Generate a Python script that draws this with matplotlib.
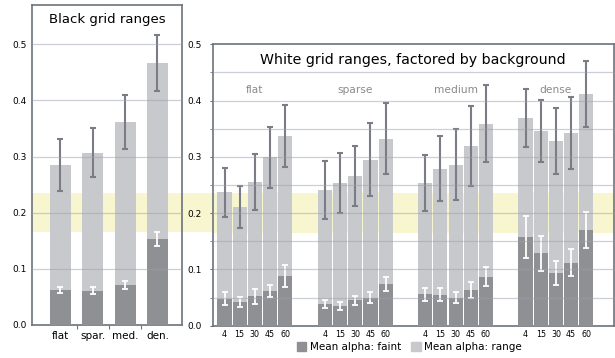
import numpy as np
import matplotlib
matplotlib.use("Agg")
import matplotlib.pyplot as plt
from matplotlib.patches import Patch

# black grid panel
black_labels = ["flat", "spar.", "med.", "den."]
black_range = [0.285, 0.307, 0.361, 0.467]
black_range_err = [0.047, 0.0435, 0.048, 0.050]
black_faint = [0.062, 0.061, 0.071, 0.153]
black_faint_err = [0.0055, 0.0065, 0.0065, 0.012]

# white grid panel, by background
backgrounds = ["flat", "sparse", "medium", "dense"]
grid_sizes = ["4", "15", "30", "45", "60"]
white_range = [
    [0.237, 0.211, 0.255, 0.299, 0.337],
    [0.241, 0.253, 0.266, 0.295, 0.332],
    [0.254, 0.279, 0.286, 0.320, 0.359],
    [0.369, 0.346, 0.328, 0.343, 0.412],
]
white_range_err = [
    [0.043, 0.037, 0.050, 0.054, 0.055],
    [0.051, 0.053, 0.053, 0.065, 0.063],
    [0.050, 0.058, 0.063, 0.071, 0.069],
    [0.052, 0.055, 0.059, 0.064, 0.059],
]
white_faint = [
    [0.048, 0.042, 0.052, 0.062, 0.088],
    [0.039, 0.035, 0.045, 0.050, 0.074],
    [0.056, 0.055, 0.050, 0.064, 0.087],
    [0.158, 0.129, 0.094, 0.112, 0.170],
]
white_faint_err = [
    [0.012, 0.009, 0.013, 0.011, 0.020],
    [0.007, 0.007, 0.0085, 0.0095, 0.0125],
    [0.0115, 0.012, 0.010, 0.014, 0.017],
    [0.037, 0.031, 0.021, 0.024, 0.032],
]
band = (0.165, 0.235)

light = "#c8c9cc"
dark = "#8f9094"
err_dark = "#7b7c86"
frame = "#6b737d"
grid_c = "#9aa0b0"
yellow = "#f8f6cf"

W, H = 615, 358
fig = plt.figure(figsize=(W / 100, H / 100), dpi=100)

ax1 = fig.add_axes([32 / W, 33 / H, 150 / W, 320 / H])
ax2 = fig.add_axes([212.5 / W, 32.3 / H, 401.5 / W, 281.4 / H])

for ax in (ax1, ax2):
    for s in ax.spines.values():
        s.set_color(frame)
        s.set_linewidth(1.2)
    ax.tick_params(axis="y", labelsize=6.5, length=0, pad=4, colors="black")
    ax.tick_params(axis="y", which="major", color=frame)

# yellow band: left one runs on through the gap up to the right panel
ax1.axhspan(band[0], band[1], xmin=0, xmax=(212.5 - 32) / 150, color=yellow,
            zorder=0, lw=0, clip_on=False)
ax2.axhspan(band[0], band[1], color=yellow, zorder=0, lw=0)

# left panel
x1 = np.arange(len(black_labels))
ax1.bar(x1, black_range, width=0.65, color=light, zorder=2)
ax1.bar(x1, black_faint, width=0.65, color=dark, zorder=3)
ax1.errorbar(x1, black_range, yerr=black_range_err, fmt="none", ecolor=err_dark,
             elinewidth=1.5, capsize=2.2, capthick=1.5, zorder=4)
ax1.errorbar(x1, black_faint, yerr=black_faint_err, fmt="none", ecolor="white",
             elinewidth=1.3, capsize=2, capthick=1.3, zorder=4)
for v in [0.1, 0.2, 0.3, 0.4, 0.5]:
    ax1.axhline(v, color=grid_c, alpha=0.5, lw=0.9, zorder=5)
ax1.set_xlim(-0.88, 3.76)
ax1.set_ylim(0, 0.57)
ax1.set_yticks([0.0, 0.1, 0.2, 0.3, 0.4, 0.5])
ax1.set_yticklabels(["0.0", "0.1", "0.2", "0.3", "0.4", "0.5"])
ax1.set_xticks(x1)
ax1.set_xticklabels(black_labels, fontsize=7.5)
ax1.set_xticks([0.5, 1.5, 2.5], minor=True)
ax1.tick_params(axis="x", which="major", length=0, pad=4)
ax1.tick_params(axis="x", which="minor", length=3, color=frame, width=0.8)
ax1.text(0.5, 0.975, "Black grid ranges", transform=ax1.transAxes,
         ha="center", va="top", fontsize=9.5)

# right panel
step = 6.6
for g, name in enumerate(backgrounds):
    xs = g * step + np.arange(len(grid_sizes))
    ax2.bar(xs, white_range[g], width=0.93, color=light, zorder=2)
    ax2.bar(xs, white_faint[g], width=0.93, color=dark, zorder=3)
    ax2.errorbar(xs, white_range[g], yerr=white_range_err[g], fmt="none", ecolor=err_dark,
                 elinewidth=1.5, capsize=2.2, capthick=1.5, zorder=4)
    ax2.errorbar(xs, white_faint[g], yerr=white_faint_err[g], fmt="none", ecolor="white",
                 elinewidth=1.3, capsize=2, capthick=1.3, zorder=4)
    ax2.text(g * step + 2, 0.418, name, ha="center", va="center",
             fontsize=7.7, color="#8a8a8a", zorder=6)

ticks2 = [g * step + i for g in range(len(backgrounds)) for i in range(len(grid_sizes))]
ax2.set_xticks(ticks2)
ax2.set_xticklabels(grid_sizes * len(backgrounds), fontsize=5.8)
ax2.tick_params(axis="x", length=0, pad=3)
for v in np.arange(0.05, 0.5, 0.05):
    ax2.axhline(v, color=grid_c, alpha=0.5, lw=0.9, zorder=5)
ax2.set_xlim(-0.79, 25.62)
ax2.set_ylim(0, 0.5)
ax2.set_yticks([0.0, 0.1, 0.2, 0.3, 0.4, 0.5])
ax2.set_yticklabels(["0.0", "0.1", "0.2", "0.3", "0.4", "0.5"])
ax2.set_yticks(np.arange(0.05, 0.5, 0.1), minor=True)
ax2.tick_params(axis="y", which="both", length=2.5, color=frame, pad=5)
ax2.set_title("White grid ranges, factored by background", fontsize=10.2, y=0.9)

handles = [Patch(color=dark, label="Mean alpha: faint"),
           Patch(color=light, label="Mean alpha: range")]
ax2.legend(handles=handles, loc="center", bbox_to_anchor=(0.49, -0.076), ncol=2,
           frameon=False, fontsize=7.5, handlelength=0.9, handleheight=0.9,
           handletextpad=0.3, columnspacing=1.0, borderpad=0)

fig.savefig("out.png", dpi=100)
